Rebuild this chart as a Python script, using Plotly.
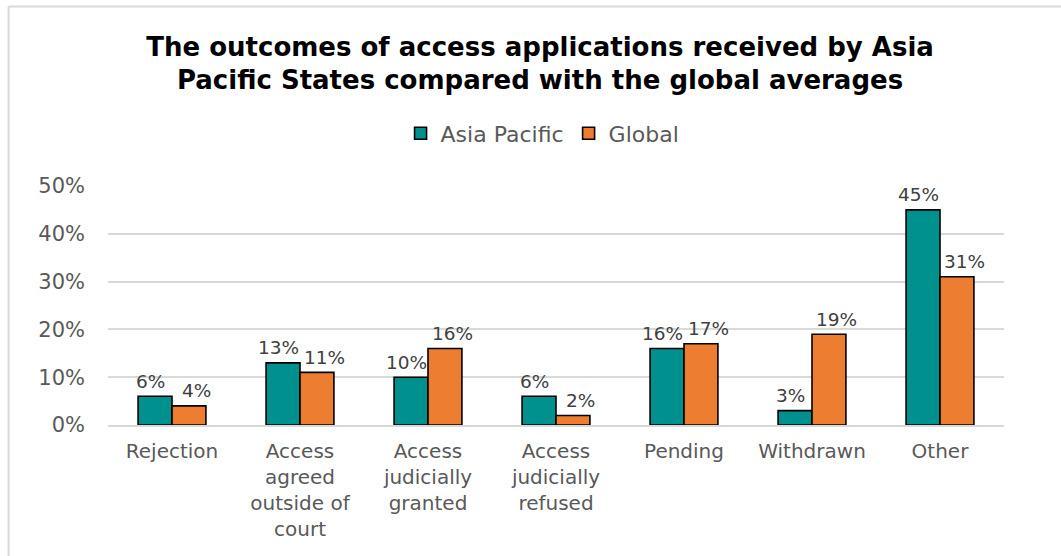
import plotly.graph_objects as go

categories = [
    "Rejection",
    "Access<br>agreed<br>outside of<br>court",
    "Access<br>judicially<br>granted",
    "Access<br>judicially<br>refused",
    "Pending",
    "Withdrawn",
    "Other",
]
asia_pacific = [6, 13, 10, 6, 16, 3, 45]
global_avg = [4, 11, 16, 2, 17, 19, 31]

TEAL = "#00918F"
ORANGE = "#ED7D31"
FONT = "DejaVu Sans"
GREY = "#595959"

series = [
    ("Asia Pacific", asia_pacific, TEAL, -22),
    ("Global", global_avg, ORANGE, 24),
]

fig = go.Figure()
for name, vals, col, _ in series:
    fig.add_trace(go.Bar(
        name=name,
        x=categories,
        y=[v / 100 for v in vals],
        marker=dict(color=col, line=dict(color="black", width=1.6)),
    ))

# value labels above each bar, nudged apart like the spreadsheet layout
for name, vals, col, dx in series:
    for cat, v in zip(categories, vals):
        fig.add_annotation(
            x=cat, y=v / 100, text=f"{v}%",
            showarrow=False, xshift=dx, yshift=15,
            xanchor="center", yanchor="middle",
            font=dict(family=FONT, size=18.5, color="#404040"),
        )

fig.update_layout(
    width=1061,
    height=556,
    barmode="group",
    bargap=0.47,
    bargroupgap=0,
    paper_bgcolor="white",
    plot_bgcolor="white",
    margin=dict(l=108, r=57, t=186, b=131),
    font=dict(family=FONT, color=GREY),
    title=dict(
        text="The outcomes of access applications received by Asia<br>Pacific States compared with the global averages",
        x=0.509,
        xanchor="center",
        y=0.9,
        yanchor="middle",
        font=dict(family=FONT, size=26, color="black", weight="bold"),
    ),
    legend=dict(
        orientation="h",
        x=0.485,
        xanchor="center",
        y=1.22,
        yanchor="middle",
        font=dict(family=FONT, size=22, color=GREY),
        itemwidth=30,
        traceorder="normal",
    ),
    showlegend=True,
)

fig.update_yaxes(
    range=[0, 0.5],
    tickvals=[0, 0.1, 0.2, 0.3, 0.4, 0.5],
    tickformat=".0%",
    showgrid=True,
    gridcolor="#D9D9D9",
    gridwidth=1.5,
    zeroline=False,
    showline=False,
    tickfont=dict(family=FONT, size=21, color=GREY),
    ticklabelstandoff=22,
)
fig.update_xaxes(
    showline=True,
    linecolor="#D9D9D9",
    linewidth=1.5,
    tickfont=dict(family=FONT, size=20, color=GREY),
    ticklabelstandoff=7,
    tickangle=0,
)

# chart frame (top and left edges)
fig.add_shape(type="line", xref="paper", yref="paper",
              x0=-0.111, x1=1.2, y0=1.751, y1=1.751,
              line=dict(color="#D9D9D9", width=2))
fig.add_shape(type="line", xref="paper", yref="paper",
              x0=-0.111, x1=-0.111, y0=1.751, y1=-0.6,
              line=dict(color="#D9D9D9", width=2))

fig.write_html("out.html")
